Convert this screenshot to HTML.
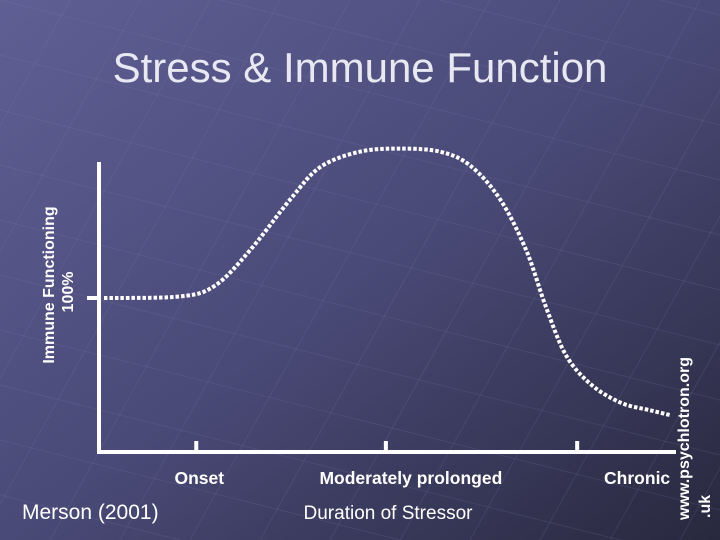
<!DOCTYPE html>
<html><head><meta charset="utf-8"><style>
html,body{margin:0;padding:0;width:720px;height:540px;overflow:hidden}
body{font-family:"Liberation Sans",sans-serif}
svg{display:block}
</style></head><body>
<svg width="720" height="540" xmlns="http://www.w3.org/2000/svg">
<defs>
<linearGradient id="bg" x1="0" y1="0" x2="1" y2="1">
<stop offset="0" stop-color="#5f5f95"/><stop offset="0.5" stop-color="#4a4a78"/><stop offset="1" stop-color="#28283e"/>
</linearGradient>
</defs>
<rect width="720" height="540" fill="url(#bg)"/>
<g id="grid" stroke="#8080b0" stroke-opacity="0.18" stroke-width="1"></g>
<text x="360" y="82" text-anchor="middle" font-size="42" fill="#e8e8f2">Stress &amp; Immune Function</text>
<line x1="99" y1="162" x2="99" y2="453" stroke="#fff" stroke-width="4"/>
<line x1="97" y1="452" x2="676" y2="452" stroke="#fff" stroke-width="4"/>
<line x1="87" y1="298" x2="99" y2="298" stroke="#fff" stroke-width="4"/>
<g id="xticks"></g>
<path id="curve" fill="none" stroke="#fff" stroke-width="4" stroke-dasharray="3.5 2"/>
<text transform="translate(54,285) rotate(-90)" text-anchor="middle" font-size="16" font-weight="bold" fill="#fff">Immune Functioning</text>
<text transform="translate(73,292) rotate(-90)" text-anchor="middle" font-size="16" font-weight="bold" fill="#fff">100%</text>
<text x="22" y="519" font-size="21" fill="#fff">Merson (2001)</text>
<text x="388" y="519" text-anchor="middle" font-size="19" fill="#fff">Duration of Stressor</text>
<text transform="translate(689,520) rotate(-90)" font-size="16" font-weight="bold" fill="#fff">www.psychlotron.org</text>
<text transform="translate(710,518) rotate(-90)" font-size="16" font-weight="bold" fill="#fff">.uk</text>
</svg>
<script>
const tickLabels = ["Onset", "Moderately prolonged", "Chronic"];
const tickPos = [16.3, 49.8, 83.6];
const curveX = [0, 13.4, 19.6, 25.8, 32.9, 38.2, 45.2, 52.3, 59.4, 64.7, 70, 74.6, 78, 81.6, 86, 91.3, 96.6, 100];
const curveY = [100, 101, 108, 131, 164, 185, 195, 197, 195, 186, 164, 131, 95, 63, 44, 32, 27, 24];
const NS = "http://www.w3.org/2000/svg";
function sx(v){return 104 + v*5.66;}
function sy(v){return 452 - v*1.54;}
const g = document.getElementById('grid');
for(let i=-10;i<20;i++){
  const l = document.createElementNS(NS,'line');
  l.setAttribute('x1', i*70); l.setAttribute('y1', 0);
  l.setAttribute('x2', i*70-300); l.setAttribute('y2', 540);
  
  
  g.appendChild(l);
  const m = document.createElementNS(NS,'line');
  m.setAttribute('x1', 0); m.setAttribute('y1', i*55);
  m.setAttribute('x2', 720); m.setAttribute('y2', i*55+180);
  
  
  g.appendChild(m);
}
const labelOffset = [3, 25, 93];
const xt = document.getElementById('xticks');
tickLabels.forEach((t,i)=>{
  const x = sx(tickPos[i]);
  const l = document.createElementNS(NS,'line');
  l.setAttribute('x1', x); l.setAttribute('x2', x);
  l.setAttribute('y1', 441); l.setAttribute('y2', 452);
  l.setAttribute('stroke', '#fff'); l.setAttribute('stroke-width', '4');
  
  
  xt.appendChild(l);
  const tx = document.createElementNS(NS,'text');
  tx.setAttribute('x', x + labelOffset[i]);
  tx.setAttribute('y', 484);
  tx.setAttribute('text-anchor', i===2 ? 'end' : 'middle');
  tx.setAttribute('font-size', '17.5'); tx.setAttribute('font-weight', 'bold');
  tx.setAttribute('fill', '#fff');
  tx.textContent = t;
  
  
  xt.appendChild(tx);
});
const P = curveX.map((x,i)=>[sx(x), sy(curveY[i])]);
let d = `M${P[0][0]},${P[0][1]}`;
for(let i=0;i<P.length-1;i++){
  const p0=P[Math.max(i-1,0)], p1=P[i], p2=P[i+1], p3=P[Math.min(i+2,P.length-1)];
  const c1=[p1[0]+(p2[0]-p0[0])/6, p1[1]+(p2[1]-p0[1])/6];
  const c2=[p2[0]-(p3[0]-p1[0])/6, p2[1]-(p3[1]-p1[1])/6];
  d += ` C${c1[0]},${c1[1]} ${c2[0]},${c2[1]} ${p2[0]},${p2[1]}`;
}
document.getElementById('curve').setAttribute('d', d);
</script>
</body></html>
